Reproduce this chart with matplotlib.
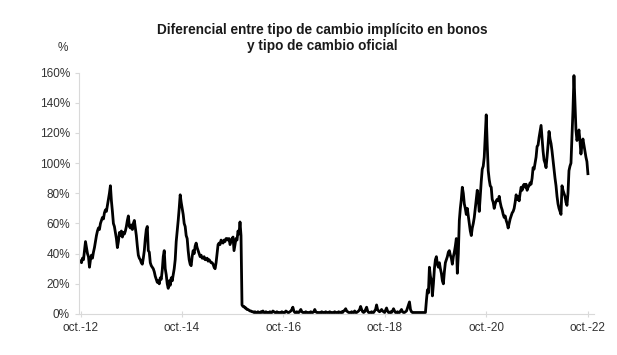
import numpy as np
import pandas as pd
import matplotlib
matplotlib.use("Agg")
import matplotlib.pyplot as plt

plt.rcParams['font.family'] = ['Liberation Sans', 'DejaVu Sans']

# weekly-ish readings, oct-2012 .. oct-2022 (%)
spread = [
    35, 34, 37, 36, 42, 48, 44, 40, 38, 31,
    36, 39, 37, 41, 44, 48, 52, 55, 57, 56,
    60, 62, 64, 63, 67, 69, 68, 72, 76, 80,
    85, 75, 68, 60, 58, 54, 50, 44, 48, 54,
    52, 55, 51, 54, 53, 55, 58, 62, 65, 58,
    57, 59, 56, 60, 62, 57, 52, 45, 39, 37,
    36, 34, 33, 37, 42, 50, 56, 58, 42, 41,
    34, 32, 31, 30, 28, 25, 23, 21, 22, 20,
    24, 23, 29, 38, 42, 30, 26, 20, 17, 22,
    19, 24, 22, 26, 30, 36, 48, 55, 62, 70,
    79, 74, 70, 66, 60, 58, 52, 50, 42, 36,
    33, 32, 38, 42, 40, 45, 47, 44, 42, 40,
    38, 39, 37, 37, 38, 36, 36, 37, 35, 36,
    35, 34, 34, 33, 31, 30, 34, 40, 46, 47,
    46, 49, 48, 47, 49, 48, 50, 50, 49, 50,
    46, 48, 50, 51, 42, 46, 50, 49, 55, 53,
    61, 52, 6, 5, 5, 4, 4, 3, 3, 2.5,
    2, 2, 1.5, 1.5, 1, 1.5, 1, 1, 1.5, 1,
    1, 1.5, 1, 2, 1, 1, 1.5, 1, 1, 1,
    1.5, 1, 1, 2, 1.5, 1, 1, 1.5, 1, 1,
    1, 1, 1.5, 1, 1, 1, 2, 1.5, 1, 1,
    1.5, 2, 3, 4.5, 2, 1, 1, 1.5, 1, 1,
    2, 3, 1.5, 1, 1, 1, 1.5, 1, 1, 1,
    1, 1.5, 1, 1, 1.5, 3, 1.5, 1, 1, 1,
    1, 1, 1.5, 1, 1, 1, 1.5, 1, 1, 1,
    1.5, 1, 1, 1, 1, 1.5, 1, 1, 1, 1.5,
    1, 1, 1.5, 1, 2, 2.5, 3.5, 2, 1.5, 1,
    1, 1, 1.5, 1, 1, 2, 1, 1, 1.5, 2,
    3, 5, 3, 1.5, 1, 1.5, 3, 4.5, 2, 1,
    1, 1, 1.5, 1, 1, 2, 3, 6, 3, 2,
    1.5, 2, 3, 2, 1.5, 1, 2.5, 4, 2, 1,
    1, 1.5, 1, 2, 3.5, 2, 1, 1, 1.5, 1,
    1, 2, 3, 1.5, 1, 1, 1.5, 2, 4, 6,
    8, 3, 1.5, 1, 1, 1, 1, 1, 1, 1,
    1, 1, 1, 1, 1, 1, 1, 9, 16, 14,
    31, 25, 22, 12, 20, 30, 36, 38, 33, 31,
    34, 30, 27, 22, 20, 28, 34, 36, 38, 41,
    42, 39, 37, 33, 38, 41, 45, 50, 27, 40,
    62, 70, 76, 84, 80, 73, 70, 66, 70, 65,
    60, 55, 52, 57, 60, 64, 70, 76, 82, 76,
    68, 78, 88, 96, 98, 104, 118, 132, 112, 95,
    89, 85, 84, 76, 74, 70, 73, 75, 76, 75,
    78, 74, 71, 69, 66, 64, 65, 62, 60, 57,
    60, 63, 65, 67, 68, 70, 74, 79, 76, 78,
    75, 80, 84, 82, 85, 86, 84, 86, 82, 84,
    85, 87, 86, 90, 97, 96, 100, 104, 111, 112,
    117, 121, 125, 116, 108, 102, 100, 97, 104, 112,
    121, 116, 113, 108, 102, 96, 90, 85, 78, 73,
    70, 68, 66, 85, 82, 80, 78, 74, 72, 80,
    95, 98, 100, 118, 135, 158, 140, 122, 115, 118,
    122, 115, 106, 112, 116, 112, 108, 104, 101, 93,
]
dates = pd.date_range('2012-10-01', '2022-10-01', periods=len(spread))

tick_dates = pd.to_datetime(['2012-10-01', '2014-10-01', '2016-10-01',
                             '2018-10-01', '2020-10-01', '2022-10-01'])
tick_labels = ['oct.-12', 'oct.-14', 'oct.-16', 'oct.-18', 'oct.-20', 'oct.-22']
y_ticks = [0, 20, 40, 60, 80, 100, 120, 140, 160]

fig = plt.figure(figsize=(6.17, 3.55), dpi=100)
ax = fig.add_axes([0.128, 0.1155, 0.835, 0.68])

ax.plot(dates, spread, color='black', lw=2.0)

ax.set_xlim(pd.Timestamp('2012-09-20'), pd.Timestamp('2022-11-15'))
ax.set_ylim(0, 160)
ax.set_yticks(y_ticks)
ax.set_yticklabels(['%d%%' % v for v in y_ticks])
ax.set_xticks(tick_dates)
ax.set_xticklabels(tick_labels)

for side in ['top', 'right']:
    ax.spines[side].set_visible(False)
for side in ['left', 'bottom']:
    ax.spines[side].set_color('#d9d9d9')
ax.tick_params(axis='both', colors='#d9d9d9', labelcolor='#333333',
               labelsize=8.5, length=3, width=0.8)
ax.tick_params(axis='x', direction='inout', length=5)

fig.text(0.523, 0.935, 'Diferencial entre tipo de cambio implícito en bonos\ny tipo de cambio oficial',
         ha='center', va='top', fontsize=9.8, fontweight='bold', color='#1a1a1a', linespacing=1.2)
fig.text(0.093, 0.865, '%', ha='left', va='center', fontsize=8.5, color='#333333')

fig.savefig('out.png', dpi=100)
